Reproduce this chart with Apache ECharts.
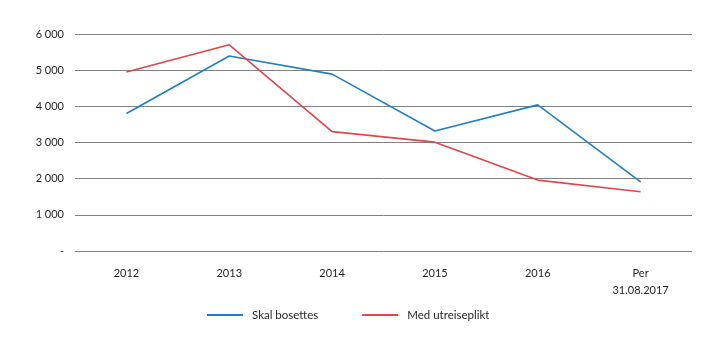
<!DOCTYPE html>
<html>
<head>
<meta charset="utf-8">
<script src="https://cdn.jsdelivr.net/npm/echarts@6/dist/echarts.min.js"></script>
<style>
  html, body { margin: 0; padding: 0; background: #ffffff; }
  #chart { width: 720px; height: 341px; }
</style>
</head>
<body>
<div id="chart"></div>
<script>
// Categories along the x axis
const categories = ['2012', '2013', '2014', '2015', '2016', 'Per\n31.08.2017'];

// Series values
const skalBosettes = [3800, 5390, 4890, 3320, 4040, 1910];
const medUtreiseplikt = [4950, 5700, 3300, 3010, 1960, 1640];

// Y axis range and step
const yMin = 0;
const yMax = 6000;
const yStep = 1000;

const fontFamily = 'Lato, "Liberation Sans", sans-serif';
const textColor = '#231f20';

function formatTick(v) {
  if (v === 0) return '-';
  return String(v).replace(/\B(?=(\d{3})+(?!\d))/g, ' ');
}

const chart = echarts.init(document.getElementById('chart'), null, { renderer: 'canvas' });

chart.setOption({
  animation: false,
  backgroundColor: '#ffffff',
  grid: { left: 75, right: 28, top: 34, bottom: 90, containLabel: false },
  legend: {
    top: 304,
    left: 202,
    icon: 'rect',
    itemWidth: 36,
    itemHeight: 2,
    itemGap: 44,
    textStyle: { fontFamily: fontFamily, fontSize: 11.5, color: textColor, padding: [0, 0, 0, 4] },
    data: ['Skal bosettes', 'Med utreiseplikt']
  },
  xAxis: {
    type: 'category',
    data: categories,
    boundaryGap: true,
    axisLine: { show: false },
    axisTick: { show: false },
    axisLabel: {
      margin: 14,
      fontFamily: fontFamily,
      fontSize: 11,
      color: textColor,
      lineHeight: 17
    }
  },
  yAxis: {
    type: 'value',
    min: yMin,
    max: yMax,
    interval: yStep,
    axisLine: { show: false },
    axisTick: { show: false },
    axisLabel: {
      margin: 11,
      fontFamily: fontFamily,
      fontSize: 11,
      color: textColor,
      formatter: formatTick
    },
    splitLine: { lineStyle: { color: '#808080', width: 1 } }
  },
  series: [
    {
      name: 'Skal bosettes',
      type: 'line',
      data: skalBosettes,
      symbol: 'none',
      lineStyle: { color: '#1f80c3', width: 1.6 },
      itemStyle: { color: '#1f80c3' }
    },
    {
      name: 'Med utreiseplikt',
      type: 'line',
      data: medUtreiseplikt,
      symbol: 'none',
      lineStyle: { color: '#e0474c', width: 1.6 },
      itemStyle: { color: '#e0474c' }
    }
  ]
});
</script>
</body>
</html>
